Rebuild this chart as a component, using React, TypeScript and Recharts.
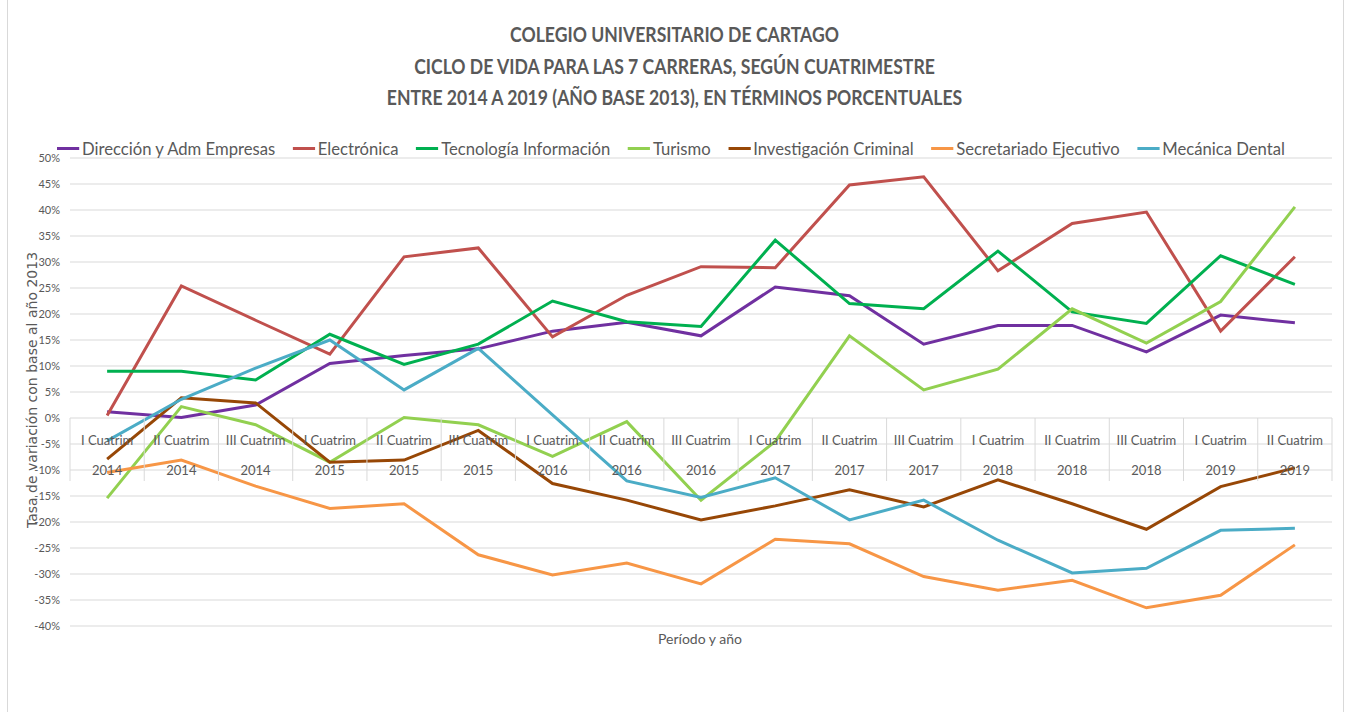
import React from "react";
import { LineChart, Line, XAxis, YAxis, CartesianGrid, Legend } from "recharts";

const periods = [
  "I Cuatrim", "II Cuatrim", "III Cuatrim",
  "I Cuatrim", "II Cuatrim", "III Cuatrim",
  "I Cuatrim", "II Cuatrim", "III Cuatrim",
  "I Cuatrim", "II Cuatrim", "III Cuatrim",
  "I Cuatrim", "II Cuatrim", "III Cuatrim",
  "I Cuatrim", "II Cuatrim",
];
const years = [
  "2014", "2014", "2014", "2015", "2015", "2015", "2016", "2016", "2016",
  "2017", "2017", "2017", "2018", "2018", "2018", "2019", "2019",
];

const direccion = [1.2, 0.1, 2.5, 10.5, 12.0, 13.3, 16.7, 18.4, 15.8, 25.2, 23.5, 14.2, 17.8, 17.8, 12.7, 19.8, 18.3];
const electronica = [0.5, 25.4, 18.8, 12.3, 31.0, 32.7, 15.6, 23.6, 29.1, 28.9, 44.8, 46.4, 28.3, 37.4, 39.6, 16.7, 31.0];
const tecnologia = [9.0, 9.0, 7.3, 16.1, 10.3, 14.2, 22.5, 18.5, 17.6, 34.2, 22.0, 21.0, 32.1, 20.4, 18.2, 31.2, 25.7];
const turismo = [-15.4, 2.2, -1.3, -8.5, 0.1, -1.3, -7.4, -0.7, -15.8, -4.5, 15.8, 5.4, 9.4, 21.0, 14.4, 22.4, 40.6];
const investigacion = [-7.9, 3.9, 2.9, -8.5, -8.1, -2.4, -12.6, -15.8, -19.6, -16.9, -13.8, -17.1, -11.9, -16.5, -21.4, -13.2, -9.6];
const secretariado = [-10.5, -8.1, -13.1, -17.4, -16.5, -26.3, -30.2, -27.9, -31.9, -23.3, -24.2, -30.5, -33.1, -31.2, -36.5, -34.1, -24.4];
const mecanica = [-4.4, 3.6, 9.6, 15.0, 5.4, 13.4, 0.6, -12.1, -15.3, -11.5, -19.6, -15.8, -23.5, -29.8, -28.9, -21.6, -21.2];

const yTicks = [-40, -35, -30, -25, -20, -15, -10, -5, 0, 5, 10, 15, 20, 25, 30, 35, 40, 45, 50];

const series = [
  { key: "direccion", name: "Dirección y Adm Empresas", color: "#7030A0", values: direccion },
  { key: "electronica", name: "Electrónica", color: "#C0504D", values: electronica },
  { key: "tecnologia", name: "Tecnología Información", color: "#00B050", values: tecnologia },
  { key: "turismo", name: "Turismo", color: "#92D050", values: turismo },
  { key: "investigacion", name: "Investigación Criminal", color: "#974706", values: investigacion },
  { key: "secretariado", name: "Secretariado Ejecutivo", color: "#F79646", values: secretariado },
  { key: "mecanica", name: "Mecánica Dental", color: "#4BACC6", values: mecanica },
];

const data = periods.map((p, i) => {
  const row: any = { label: `${p} ${years[i]}` };
  series.forEach((s) => (row[s.key] = s.values[i]));
  return row;
});

const FONT = "Lato, 'Open Sans', Arial, sans-serif";
const TEXT = "#595959";
const GRID = "#d9d9d9";

// chart geometry
const W = 1349;
const H = 712;
const PLOT_LEFT = 70;
const PLOT_RIGHT = 1332;
const PLOT_TOP = 158;
const PLOT_BOTTOM = 626;
const Y_MIN = -40;
const Y_MAX = 50;
const zeroY = PLOT_TOP + ((Y_MAX - 0) / (Y_MAX - Y_MIN)) * (PLOT_BOTTOM - PLOT_TOP);
const bandW = (PLOT_RIGHT - PLOT_LEFT) / periods.length;

// multi-level category labels sitting on the 0% line
const CategoryTick = (props: any) => {
  const { x, index } = props;
  const last = index === periods.length - 1;
  return (
    <g>
      <line x1={x - bandW / 2} x2={x - bandW / 2} y1={zeroY} y2={zeroY + 63} stroke={GRID} />
      {last && <line x1={x + bandW / 2} x2={x + bandW / 2} y1={zeroY} y2={zeroY + 63} stroke={GRID} />}
      <text x={x} y={zeroY + 22} textAnchor="middle" dominantBaseline="central" fontSize={13} fill={TEXT} fontFamily={FONT}>
        {periods[index]}
      </text>
      <text x={x} y={zeroY + 52} textAnchor="middle" dominantBaseline="central" fontSize={13} fill={TEXT} fontFamily={FONT}>
        {years[index]}
      </text>
    </g>
  );
};

const LegendContent = () => (
  <div
    style={{
      display: "flex",
      alignItems: "center",
      whiteSpace: "nowrap",
      fontFamily: FONT,
      fontSize: 18,
      color: TEXT,
      transform: "scaleX(0.925)",
      transformOrigin: "left center",
    }}
  >
    {series.map((s) => (
      <div key={s.key} style={{ display: "flex", alignItems: "center", marginRight: 19 }}>
        <span style={{ display: "inline-block", width: 24, height: 3, background: s.color, marginRight: 3 }} />
        <span>{s.name}</span>
      </div>
    ))}
  </div>
);

export default function App() {
  return (
    <div style={{ position: "absolute", left: 0, top: 0, width: W, height: H, background: "#fff", overflow: "hidden" }}>
      <div
        style={{
          position: "absolute",
          left: 7,
          top: -10,
          width: 1337,
          height: 740,
          border: `1px solid ${GRID}`,
          boxSizing: "border-box",
        }}
      />
      <div
        style={{
          position: "absolute",
          left: 0,
          top: 19,
          width: W,
          textAlign: "center",
          fontFamily: FONT,
          fontWeight: "bold",
          fontSize: 20,
          lineHeight: "31.5px",
          color: TEXT,
          transform: "scaleX(0.88)",
          transformOrigin: "center",
        }}
      >
        <div>COLEGIO UNIVERSITARIO DE CARTAGO</div>
        <div>CICLO DE VIDA PARA LAS 7 CARRERAS, SEGÚN CUATRIMESTRE</div>
        <div>ENTRE 2014 A 2019 (AÑO BASE 2013), EN TÉRMINOS PORCENTUALES</div>
      </div>
      <div
        style={{
          position: "absolute",
          left: 32,
          top: 390,
          transform: "translate(-50%, -50%) rotate(-90deg)",
          whiteSpace: "nowrap",
          fontFamily: "'DejaVu Sans', sans-serif",
          fontSize: 14,
          color: TEXT,
        }}
      >
        Tasa de variación con base al año 2013
      </div>
      <div
        style={{
          position: "absolute",
          left: 700,
          top: 638,
          transform: "translate(-50%, -50%)",
          whiteSpace: "nowrap",
          fontFamily: FONT,
          fontSize: 14,
          color: TEXT,
        }}
      >
        Período y año
      </div>
      <div style={{ position: "absolute", left: 0, top: 0 }}>
        <LineChart
          width={W}
          height={H}
          data={data}
          margin={{ top: PLOT_TOP, right: W - PLOT_RIGHT, bottom: H - PLOT_BOTTOM - 1, left: 8 }}
        >
          <CartesianGrid vertical={false} stroke={GRID} />
          <XAxis
            dataKey="label"
            interval={0}
            height={1}
            axisLine={false}
            tickLine={false}
            padding={{ left: bandW / 2, right: bandW / 2 }}
            tick={<CategoryTick />}
          />
          <YAxis
            width={PLOT_LEFT - 8}
            domain={[Y_MIN, Y_MAX]}
            ticks={yTicks}
            tickFormatter={(v: number) => `${v}%`}
            axisLine={false}
            tickLine={false}
            tickSize={0}
            tickMargin={10}
            tick={{ fontSize: 11, fill: TEXT, fontFamily: FONT }}
            allowDataOverflow
          />
          <Legend
            verticalAlign="middle"
            content={<LegendContent />}
            wrapperStyle={{ position: "absolute", top: 137, left: 57, width: 1280 }}
          />
          {series.map((s) => (
            <Line
              key={s.key}
              type="linear"
              dataKey={s.key}
              name={s.name}
              stroke={s.color}
              strokeWidth={3}
              dot={false}
              isAnimationActive={false}
            />
          ))}
        </LineChart>
      </div>
    </div>
  );
}
